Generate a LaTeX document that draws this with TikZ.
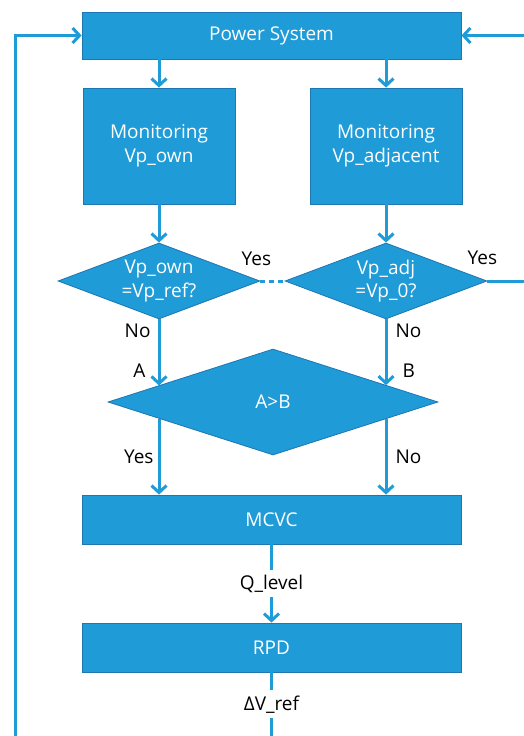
\documentclass[tikz,border=0pt]{standalone}
\usepackage{fontspec}
\setmainfont{Open Sans}
\usetikzlibrary{arrows.meta,calc,shapes.geometric}
\definecolor{boxblue}{RGB}{31,155,215}
\definecolor{edgeblue}{RGB}{30,118,178}
\tikzset{
	blockbox/.style={draw=edgeblue, line width=0.8pt, fill=boxblue, text=white, inner sep=0pt, align=center, font=\fontsize{19}{23.5}\selectfont},
	decision/.style={blockbox, diamond, inner sep=-5pt},
	wire/.style={draw=boxblue, line width=3pt},
	flow/.style={wire, -{Straight Barb[length=7pt,width=15pt]}},
	lbl/.style={text=black, inner sep=1pt, font=\fontsize{19}{23}\selectfont}
}

\begin{document}
\begin{tikzpicture}[x=1pt,y=-1pt]
			%%%%% START %%%%%
			\useasboundingbox (0,0) rectangle (524,736);
			
			\node[blockbox, minimum width=379pt, minimum height=47pt] (power) at (271.5,35.5) {Power System};
			\node[blockbox, minimum width=152pt, minimum height=116pt] (monown) at (159,146) {Monitoring\\Vp\_own};
			\node[blockbox, minimum width=152pt, minimum height=116pt] (monadj) at (386,146) {Monitoring\\Vp\_adjacent};
			
			\node[decision, aspect=2.66, minimum width=202pt, minimum height=76pt] (chkown) at (159,281) {Vp\_own\\=Vp\_ref?};
			\node[decision, aspect=2.66, minimum width=202pt, minimum height=76pt] (chkadj) at (386,281) {Vp\_adj\\=Vp\_0?};
			\node[decision, aspect=3.1, minimum width=330pt, minimum height=106pt] (cmp) at (273,402) {A>B};
			
			\node[blockbox, minimum width=379pt, minimum height=49pt] (mcvc) at (271.5,519.5) {MCVC};
			\node[blockbox, minimum width=379pt, minimum height=49pt] (rpd) at (271.5,647.5) {RPD};
			
			% where the two arms cross the edges of A>B
			\coordinate (ain) at ($(cmp.west)!0.309!(cmp.north)$);
			\coordinate (aout) at ($(cmp.west)!0.309!(cmp.south)$);
			\coordinate (bin) at ($(cmp.east)!0.315!(cmp.north)$);
			\coordinate (bout) at ($(cmp.east)!0.315!(cmp.south)$);
			
			% ends at the edge of the page
			\coordinate (loopin) at (15,736);
			\coordinate (rtop) at (524,35.5);
			\coordinate (rmid) at (524,281);
			
			\draw[flow] (power.south -| monown.north) -- (monown.north);
			\draw[flow] (power.south -| monadj.north) -- (monadj.north);
			\draw[flow] (monown.south) -- (chkown.north);
			\draw[flow] (monadj.south) -- (chkadj.north);
			
			\draw[wire, dash pattern=on 5pt off 4pt] (chkown.east) -- (chkadj.west);
			\draw[wire] (chkadj.east) -- (rmid);
			\node[lbl] (yesown) at ($(chkown.east)+(-4,-22)$) {Yes};
			\node[lbl] (yesadj) at ($(chkadj.east)+(-5,-23)$) {Yes};
			
			\draw[flow] (chkown.south) -- (chkown.south |- ain) node[lbl, pos=0.17, left=6pt] (noown) {No} node[lbl, pos=0.78, left=11pt] (lbla) {A};
			\draw[flow] (chkadj.south) -- (chkadj.south |- bin) node[lbl, pos=0.17, right=7pt] (noadj) {No} node[lbl, pos=0.78, right=14pt] (lblb) {B};
			\draw[flow] (chkown.south |- aout) -- (chkown.south |- mcvc.north) node[lbl, midway, left=3pt] (yescmp) {Yes};
			\draw[flow] (chkadj.south |- bout) -- (chkadj.south |- mcvc.north) node[lbl, midway, right=7pt] (nocmp) {No};
			
			\draw[flow] (mcvc.south) -- (rpd.north) node[lbl, midway, fill=white, inner ysep=5pt] (qlevel) {Q\_level};
			\draw[wire] (rpd.south) -- (rpd.south |- loopin) node[lbl, midway, fill=white, inner ysep=5pt] (dvref) {ΔV\_ref};
			
			\draw[flow] (loopin) |- (power.west);
			\draw[flow] (rtop) -- (power.east);
			%%%%% END %%%%%
\end{tikzpicture}
\end{document}
